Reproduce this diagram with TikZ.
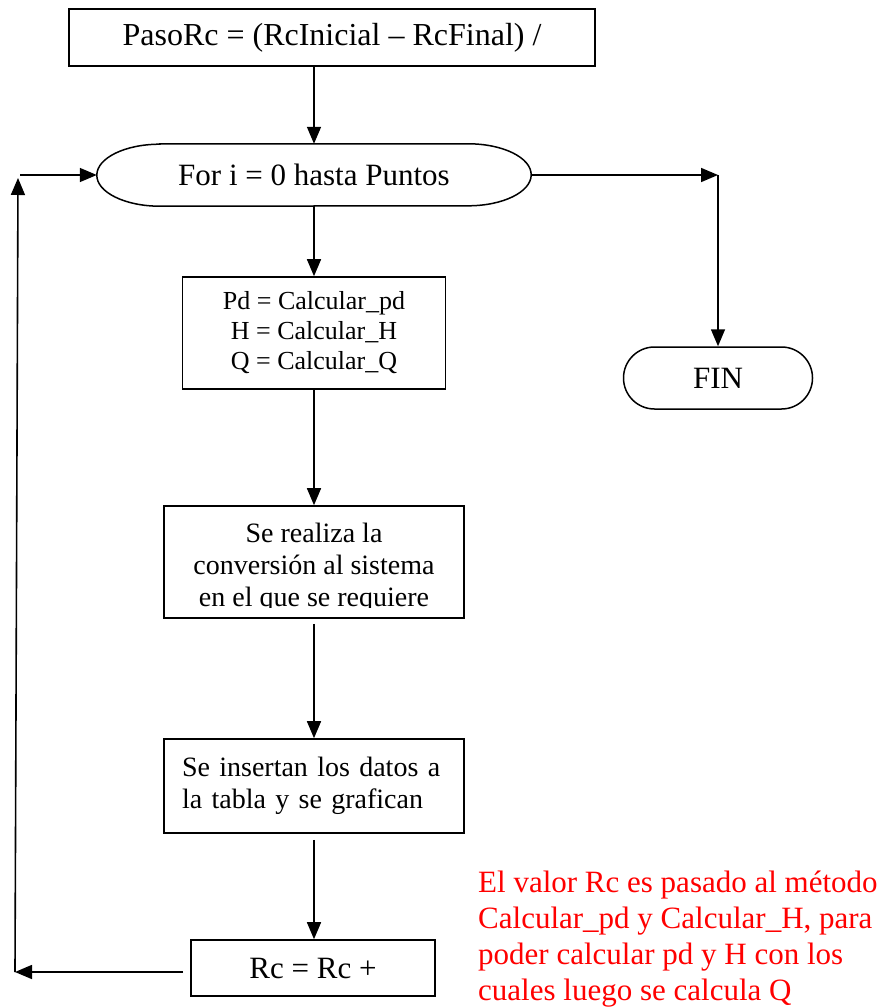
\documentclass[tikz,border=0pt]{standalone}
\usepackage{fontspec}
\setmainfont{Liberation Serif}
\usetikzlibrary{arrows.meta,shapes.misc}
\begin{document}
\begin{tikzpicture}[x=1pt,y=-1pt,
  every node/.style={inner sep=0pt},
  proc/.style={draw, line width=1.6pt, rectangle},
  term/.style={draw, line width=1.5pt, rounded rectangle},
  outline/.style={line width=1.5pt},
  flow/.style={line width=1.6pt, -{Triangle[length=17pt,width=14pt]}},
  note/.style={text=red, align=left, font=\fontsize{31}{36}\selectfont}]
\useasboundingbox (0,0) rectangle (893,1008);

% process boxes and terminals
\node[proc, minimum width=526pt, minimum height=57pt, font=\fontsize{32}{38}\selectfont]
  (paso) at (332,37.5) {PasoRc = (RcInicial – RcFinal) /};

% loop header: flat top and bottom with elliptical ends
\node[minimum width=434pt, minimum height=62pt, font=\fontsize{31}{36}\selectfont]
  (loop) at (314,175) {For i = 0 hasta Puntos};
\draw[outline] ([xshift=63pt]loop.north west) -- ([xshift=-63pt]loop.north east)
  arc[start angle=90, end angle=-90, x radius=63pt, y radius=31pt]
  -- ([xshift=63pt]loop.south west)
  arc[start angle=270, end angle=90, x radius=63pt, y radius=31pt] -- cycle;

\node[proc, minimum width=263pt, minimum height=112pt, align=center, font=\fontsize{26}{30}\selectfont]
  (calc) at (314,333) {Pd = Calcular\_pd\\H = Calcular\_H\\Q = Calcular\_Q};
\node[term, minimum width=189pt, minimum height=62pt, font=\fontsize{31}{36}\selectfont]
  (fin) at (718,378) {FIN};

\node[proc, minimum width=300pt, minimum height=112pt] (conv) at (314,562) {};
\begin{scope}
  \clip (164,506) rectangle (464,607);
  \node[align=center, font=\fontsize{28}{32}\selectfont, anchor=north]
    (convtext) at (314,523) {Se realiza la\\conversión al sistema\\en el que se requiere};
\end{scope}

\node[proc, minimum width=300pt, minimum height=94pt, text width=264pt, align=left, font=\fontsize{28}{32}\selectfont]
  (datos) at (314,786) {Se insertan los datos a\\la tabla y se grafican};
\node[proc, minimum width=244pt, minimum height=56pt, font=\fontsize{31}{36}\selectfont]
  (rc) at (313,968) {Rc = Rc +};

\node[note, anchor=north west] (nota) at (478,871)
  {El valor Rc es pasado al método\\Calcular\_pd y Calcular\_H, para\\poder calcular pd y H con los\\cuales luego se calcula Q};

% connectors
\coordinate (corner) at (718,175);
\coordinate (back) at (15,972);
\coordinate (top) at (18,178);
\coordinate (entry) at (20,175);

\draw[flow] (paso.south -| loop.north) -- (loop.north);
\draw[flow] (loop.east) -- (corner);
\draw[flow] (corner) -- (fin.north);
\draw[flow] (loop.south) -- (loop.south |- calc.north);
\draw[flow] (calc.south) -- (calc.south |- conv.north);
\draw[flow, shorten <=5pt] (conv.south) -- (conv.south |- datos.north);
\draw[flow, shorten <=6pt] (datos.south) -- (datos.south |- rc.north);
\draw[flow, shorten <=7pt] (rc.west |- back) -- (back);
\draw[flow] (back) -- (top);
\draw[flow] (entry) -- (loop.west);
\end{tikzpicture}
\end{document}
